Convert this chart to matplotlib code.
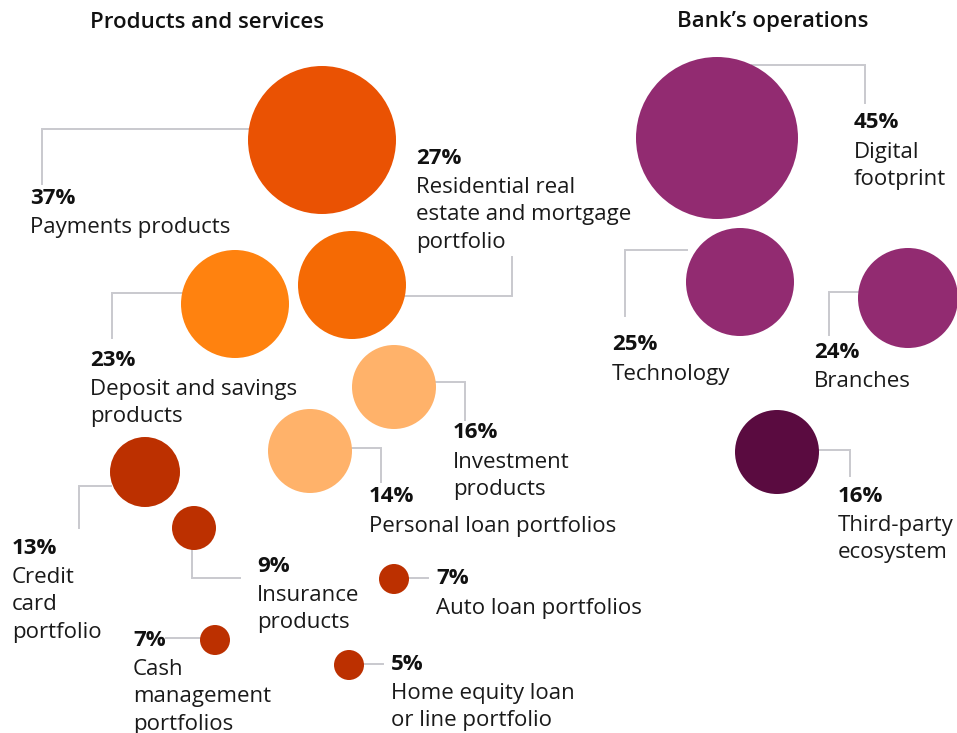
import matplotlib.pyplot as plt
from matplotlib.patches import Circle

plt.rcParams['font.family'] = ['Open Sans', 'DejaVu Sans']

# chart data
groups = ['Products and services', 'Bank\u2019s operations']
names = ['Payments products',
         'Residential real\nestate and mortgage\nportfolio',
         'Deposit and savings\nproducts',
         'Investment\nproducts',
         'Personal loan portfolios',
         'Credit\ncard\nportfolio',
         'Insurance\nproducts',
         'Auto loan portfolios',
         'Cash\nmanagement\nportfolios',
         'Home equity loan\nor line portfolio',
         'Digital\nfootprint',
         'Technology',
         'Branches',
         'Third-party\necosystem']
values = [37, 27, 23, 16, 14, 13, 9, 7, 7, 5, 45, 25, 24, 16]
colors = ['#EA5203', '#F56A04', '#FF820F', '#FFB26A', '#FFB26A', '#BC3000', '#BC3000',
          '#BC3000', '#BC3000', '#BC3000', '#922B71', '#922B71', '#922B71', '#5A0B40']

# layout in pixels: bubble centre / radius, connector path, label anchor
bubbles = [(322, 140, 74), (352, 285, 54), (235, 304, 54), (394, 387, 42), (310, 451, 42),
           (145, 472, 35), (194, 528, 22), (394, 579, 15), (215, 640, 15), (349, 665, 15),
           (717, 138, 81), (740, 282, 54), (908, 298, 50), (777, 452, 42)]
paths = [[(250, 129), (42, 129), (42, 184)],
         [(403, 296), (512, 296), (512, 257)],
         [(182, 293), (112, 293), (112, 338)],
         [(435, 382), (465, 382), (465, 420)],
         [(351, 448), (381, 448), (381, 482)],
         [(111, 486), (79, 486), (79, 528)],
         [(192, 549), (192, 578), (240, 578)],
         [(409, 578), (428, 578)],
         [(200, 638), (166, 638)],
         [(364, 664), (383, 664)],
         [(752, 65), (865, 65), (865, 103)],
         [(687, 250), (625, 250), (625, 316)],
         [(860, 292), (829, 292), (829, 335)],
         [(818, 450), (850, 450), (850, 476)]]
anchors = [(30, 198), (416, 158), (90, 360), (453, 433), (369, 497), (12, 548), (257, 566),
           (436, 579), (133, 640), (391, 664), (854, 123), (612, 345), (814, 352), (838, 496)]
title_pos = [(90, 22), (677, 22)]

W, H = 957, 733
fig = plt.figure(figsize=(W / 100, H / 100), dpi=100)
ax = fig.add_axes([0, 0, 1, 1])
ax.set_xlim(0, W)
ax.set_ylim(H, 0)
ax.axis('off')

fs = 16
lh = 27.7

for (cx, cy, r), c in zip(bubbles, colors):
    ax.add_patch(Circle((cx, cy), r, facecolor=c, edgecolor='none', zorder=2))

for p in paths:
    ax.plot([q[0] for q in p], [q[1] for q in p], color='#C9C9CE', lw=1.4, zorder=1,
            solid_joinstyle='miter')

for (tx, ty), v, n in zip(anchors, values, names):
    ax.text(tx, ty, f'{v}%', fontsize=fs, fontweight='bold', color='#111111', va='center', ha='left')
    for i, line in enumerate(n.split('\n')):
        ax.text(tx, ty + 1.5 + lh * (i + 1), line, fontsize=fs, color='#1a1a1a',
                va='center', ha='left')

for (tx, ty), g in zip(title_pos, groups):
    ax.text(tx, ty, g, fontsize=fs, fontweight='semibold', color='#111111', va='center', ha='left')

fig.savefig('out.png', dpi=100, facecolor='white')
